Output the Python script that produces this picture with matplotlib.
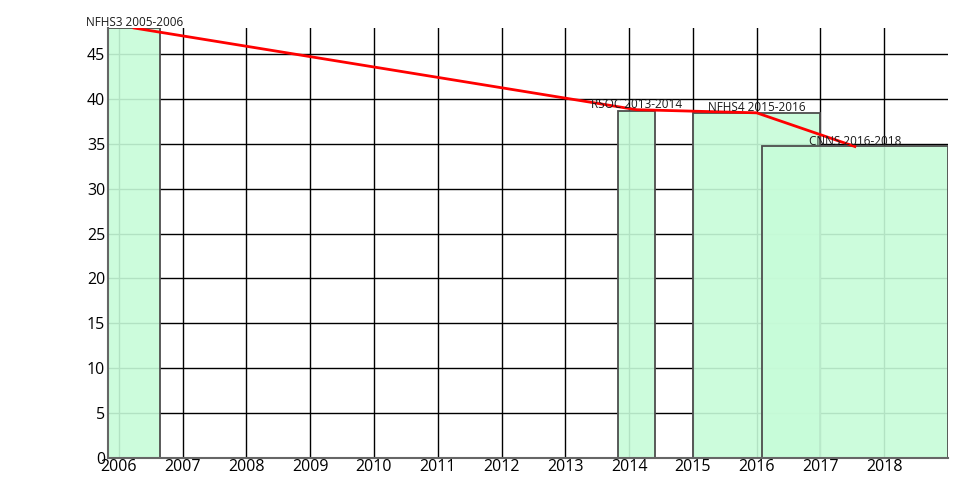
import matplotlib
matplotlib.use("Agg")
import matplotlib.pyplot as plt

plt.rcParams['font.family'] = ['Open Sans', 'DejaVu Sans']

# Survey bars (start year, end year, value)
surveys = ["NFHS3 2005-2006", "RSOC 2013-2014", "NFHS4 2015-2016", "CNNS 2016-2018"]
bar_start = [2005.4, 2013.83, 2015.0, 2016.09]
bar_end = [2006.65, 2014.405, 2016.99, 2019.0]
bar_value = [47.9, 38.7, 38.4, 34.7]

# Trend line points (year, value)
line_x = [2006.24, 2014.115, 2016.0, 2017.54]
line_y = [47.9, 38.8, 38.45, 34.7]

fig = plt.figure(figsize=(9.6, 5), dpi=100)
ax = fig.add_axes([0.1125, 0.084, 0.875, 0.86])

ax.set_axisbelow(True)
ax.grid(True, color='black', linewidth=1)

widths = [e - s for s, e in zip(bar_start, bar_end)]
ax.bar(bar_start, bar_value, width=widths, align='edge',
       facecolor=(0.78, 0.99, 0.85, 0.9), edgecolor='#4d4d4d', linewidth=1.3,
       zorder=2)

ax.plot(line_x, line_y, color='red', linewidth=2, zorder=3)

for name, x, y in zip(surveys, line_x, line_y):
    ax.annotate(name, (x, y), xytext=(0, -1), textcoords='offset points',
                ha='center', va='bottom', fontsize=8.5, color='#1a1a1a',
                zorder=4, annotation_clip=False)

ax.set_xlim(2005.83, 2019.0)
ax.set_ylim(0, 47.9)
ax.set_xticks(range(2006, 2019))
ax.set_yticks(range(0, 50, 5))
ax.tick_params(length=0, labelsize=11.5, pad=2)
ax.tick_params(axis='x', pad=1)

for s in ['top', 'right']:
    ax.spines[s].set_visible(False)
for s in ['left', 'bottom']:
    ax.spines[s].set_color('#666666')
    ax.spines[s].set_linewidth(1.5)

fig.savefig("out.png", dpi=100)
